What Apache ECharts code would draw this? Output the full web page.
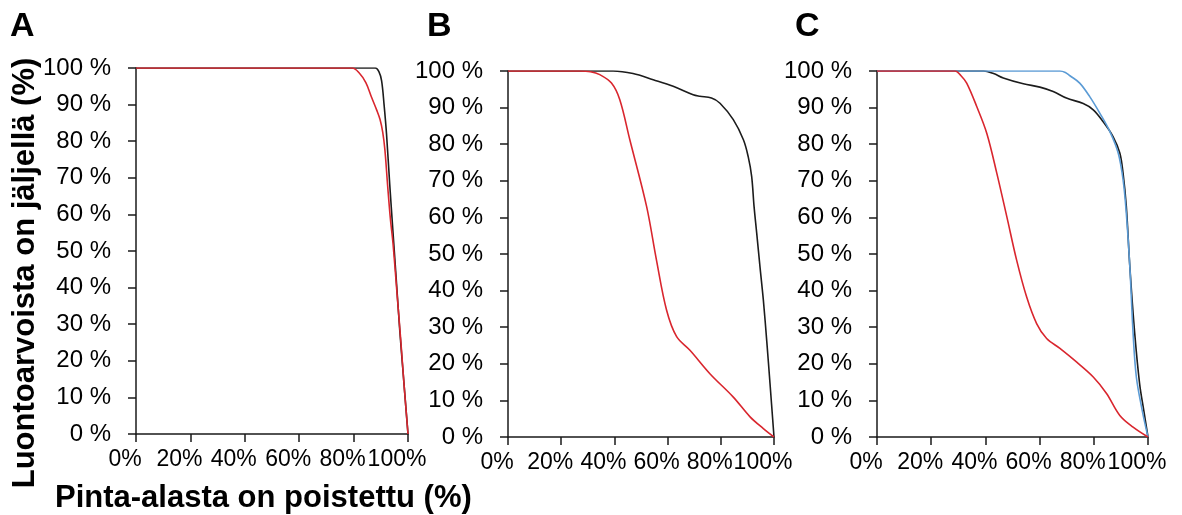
<!DOCTYPE html>
<html>
<head>
<meta charset="utf-8">
<script src="https://cdn.jsdelivr.net/npm/echarts@6/dist/echarts.min.js"></script>
<style>
html,body{margin:0;padding:0;background:#fff;}
#chart{width:1182px;height:515px;}
</style>
</head>
<body>
<div id="chart"></div>
<script>
// ---- data ----
var panelLabels = ['A', 'B', 'C'];
var xTickValues = [0, 20, 40, 60, 80, 100];
var yTickValues = [0, 10, 20, 30, 40, 50, 60, 70, 80, 90, 100];
var yTitle = 'Luontoarvoista on jäljellä (%)';
var xTitle = 'Pinta-alasta on poistettu (%)';

// Panel A
var aBlack = [[0,100],[60,100],[85,100],[88,100],[89.3,99],[90.3,96.5],[91.2,90],[92.1,82],[93.3,68],[94.5,55],[95.8,41],[97,28],[98.5,14],[100,0]];
var aRed = [[0,100],[60,100],[79.5,100],[82,98.7],[84.5,96],[86.6,92],[88.5,88.5],[89.7,86],[90.7,82.5],[91.5,77.7],[92.5,68],[93.5,59],[94.5,52],[96,38],[97.3,26],[98.7,12],[100,0]];

// Panel B
var bBlack = [[0,100],[20,100],[39.5,100],[47,99.3],[54.6,97.6],[62.1,95.8],[69.6,93.5],[72.1,93.1],[76.5,92.6],[79.7,91.2],[84.7,86.7],[88.5,81.2],[90.3,76.6],[91.6,71.2],[92.5,63],[93.5,55.7],[94.8,46],[96,37.4],[97.3,26],[98.5,14.6],[100,0]];
var bRed = [[0,100],[20,100],[27,100],[31,99.8],[34.5,99],[38.9,96.7],[42,92.2],[45.8,81.2],[52.1,63],[55.8,48.4],[59.6,34.7],[63.4,27.4],[68.4,23.7],[75.9,17.3],[84.7,10.9],[91,5.5],[96,2.3],[100,0]];

// Panel C
var cBlack = [[0,100],[20,100],[39.3,100],[43,99.3],[46.6,98.1],[54,96.5],[60.1,95.6],[65,94.4],[69.9,92.6],[76.1,91.1],[79.8,89.4],[83.4,86.2],[87.1,82.1],[89.6,77.6],[90.8,72.1],[92,63],[93.3,46.5],[95.1,28.3],[96.9,14.6],[98.5,7],[100,0]];
var cBlue = [[0,100],[20,100],[40,100],[67.5,100],[69.5,99.6],[71.2,98.7],[74.8,96.7],[78.5,93],[82.2,88.5],[85.9,83.5],[89,77.6],[90.8,70.3],[92,61.1],[93.3,46.5],[94.5,28.3],[95.7,16.4],[97.8,7.5],[100,0]];
var cRed = [[0,100],[20,100],[28.8,100],[31,98.7],[33.1,96.7],[36.8,90.3],[40.5,83],[44.2,72.1],[47.9,60.2],[51.5,48.4],[55.2,38.3],[58.9,31],[62.6,26.9],[67.5,24.2],[73.6,20.5],[79.8,16.4],[84.7,11.9],[89.6,5.9],[94.5,2.7],[100,0]];

var panelSeries = [
  [{d: aBlack, c: '#1c1c1c'}, {d: aRed, c: '#d9262e'}],
  [{d: bBlack, c: '#1c1c1c'}, {d: bRed, c: '#d9262e'}],
  [{d: cBlack, c: '#1c1c1c'}, {d: cBlue, c: '#5b9bd5'}, {d: cRed, c: '#d9262e'}]
];

var grids = [
  {left: 136, top: 68, width: 272, height: 366},
  {left: 508, top: 71, width: 266, height: 366},
  {left: 877, top: 71, width: 271, height: 366}
];
var letterPos = [10, 427, 795];

var FONT = '"Liberation Sans", Arial, sans-serif';
var axisLineStyle = {color: '#1a1a1a', width: 1.5};

var xAxes = [], yAxes = [], series = [], graphics = [];
grids.forEach(function (g, i) {
  xAxes.push({
    gridIndex: i, type: 'value', min: 0, max: 100, interval: 20,
    axisLine: {show: true, onZero: false, lineStyle: axisLineStyle},
    axisTick: {show: true, inside: false, length: 8, lineStyle: axisLineStyle},
    splitLine: {show: false},
    axisLabel: {
      show: true, margin: 14, fontFamily: FONT, fontSize: 23, color: '#000',
      padding: [0, 10, 0, -12],
      hideOverlap: false, showMinLabel: true, showMaxLabel: true,
      formatter: function (v) { return v + '%'; }
    }
  });
  yAxes.push({
    gridIndex: i, type: 'value', min: 0, max: 100, interval: 10,
    axisLine: {show: true, onZero: false, lineStyle: axisLineStyle},
    axisTick: {show: true, inside: false, length: 8, lineStyle: axisLineStyle},
    splitLine: {show: false},
    axisLabel: {
      show: true, margin: 25, fontFamily: FONT, fontSize: 24, color: '#000',
      showMinLabel: true, showMaxLabel: true,
      formatter: function (v) { return v + ' %'; }
    }
  });
  panelSeries[i].forEach(function (s) {
    series.push({
      type: 'line', xAxisIndex: i, yAxisIndex: i, data: s.d,
      showSymbol: false, symbol: 'none', smooth: 0.35,
      lineStyle: {color: s.c, width: 1.6}, itemStyle: {color: s.c},
      animation: false, silent: true
    });
  });
  graphics.push({
    type: 'text', left: letterPos[i], top: 10,
    style: {text: panelLabels[i], font: 'bold 34px ' + FONT, fill: '#000'}
  });
});

graphics.push({
  type: 'text', x: 25, y: 273, rotation: Math.PI / 2,
  style: {text: yTitle, font: 'bold 31px ' + FONT, fill: '#000', textAlign: 'center', textVerticalAlign: 'middle'}
});
graphics.push({
  type: 'text', x: 55, y: 498,
  style: {text: xTitle, font: 'bold 31px ' + FONT, fill: '#000', textAlign: 'left', textVerticalAlign: 'middle'}
});

var chart = echarts.init(document.getElementById('chart'), null, {renderer: 'canvas'});
chart.setOption({
  animation: false,
  backgroundColor: '#fff',
  grid: grids,
  xAxis: xAxes,
  yAxis: yAxes,
  series: series,
  graphic: graphics
});
</script>
</body>
</html>
